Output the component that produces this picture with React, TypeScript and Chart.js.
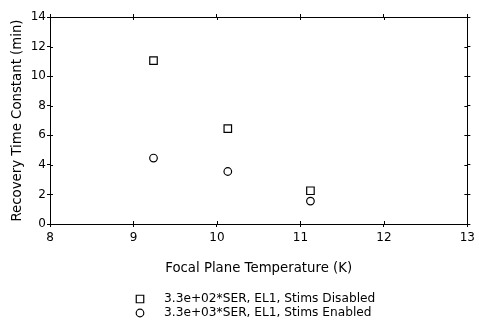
import React, { useEffect, useRef } from "react";
import { Chart, registerables } from "chart.js";

Chart.register(...registerables);

const temps = [9.24, 10.13, 11.12];
const disabledValues = [11.05, 6.45, 2.25];
const enabledValues = [4.46, 3.55, 1.55];
const seriesLabels = [
  "3.3e+02*SER, EL1, Stims Disabled",
  "3.3e+03*SER, EL1, Stims Enabled",
];
const xTitle = "Focal Plane Temperature (K)";
const yTitle = "Recovery Time Constant (min)";

const FONT = "DejaVu Sans";

const innerTicks = {
  id: "innerTicks",
  afterDatasetsDraw(chart: any) {
    const ctx = chart.ctx;
    const a = chart.chartArea;
    ctx.save();
    ctx.strokeStyle = "#000";
    ctx.lineWidth = 1;
    const len = 3;
    const xs = chart.scales.x;
    const ys = chart.scales.y;
    ctx.beginPath();
    xs.ticks.forEach((t: any) => {
      const px = Math.round(xs.getPixelForValue(t.value)) + 0.5;
      ctx.moveTo(px, a.bottom);
      ctx.lineTo(px, a.bottom - len);
      ctx.moveTo(px, a.top);
      ctx.lineTo(px, a.top + len);
    });
    ys.ticks.forEach((t: any) => {
      const py = Math.round(ys.getPixelForValue(t.value)) + 0.5;
      ctx.moveTo(a.left, py);
      ctx.lineTo(a.left + len, py);
      ctx.moveTo(a.right, py);
      ctx.lineTo(a.right - len, py);
    });
    ctx.stroke();
    ctx.restore();
  },
};

const customLegend = {
  id: "customLegend",
  afterDraw(chart: any) {
    const ctx = chart.ctx;
    ctx.save();
    ctx.font = `12.2px "${FONT}"`;
    ctx.fillStyle = "#000";
    ctx.strokeStyle = "#000";
    ctx.lineWidth = 1.2;
    ctx.textBaseline = "middle";
    ctx.textAlign = "left";
    const rows = [299, 313];
    chart.data.datasets.forEach((ds: any, i: number) => {
      const y = rows[i];
      const mx = 140;
      ctx.beginPath();
      if (ds.pointStyle === "rect") {
        ctx.rect(mx - 3.75, y - 3.75, 7.5, 7.5);
      } else {
        ctx.arc(mx, y, 3.8, 0, Math.PI * 2);
      }
      ctx.stroke();
      ctx.fillText(ds.label, 164, y);
    });
    ctx.restore();
  },
};

export default function App() {
  const ref = useRef<HTMLCanvasElement>(null);
  useEffect(() => {
    if (!ref.current) return;
    const tickFont = { family: FONT, size: 12 };
    const titleFont = { family: FONT, size: 13.3 };
    const gridCommon = {
      drawOnChartArea: false,
      drawTicks: true,
      tickLength: 3,
      color: "#000",
      lineWidth: 1,
    };
    const border = { color: "#000", width: 1 };
    const chart = new Chart(ref.current, {
      type: "scatter",
      data: {
        datasets: [
          {
            label: seriesLabels[0],
            data: temps.map((t, i) => ({ x: t, y: disabledValues[i] })),
            pointStyle: "rect",
            pointRadius: 5.3,
            pointBorderWidth: 1.2,
            borderColor: "#000",
            backgroundColor: "rgba(0,0,0,0)",
          },
          {
            label: seriesLabels[1],
            data: temps.map((t, i) => ({ x: t, y: enabledValues[i] })),
            pointStyle: "circle",
            pointRadius: 3.8,
            pointBorderWidth: 1.2,
            borderColor: "#000",
            backgroundColor: "rgba(0,0,0,0)",
          },
        ],
      },
      options: {
        animation: false,
        responsive: false,
        devicePixelRatio: 1,
        layout: { padding: { left: 0, right: 0, top: 0, bottom: 40 } },
        plugins: {
          legend: { display: false },
          tooltip: { enabled: false },
        },
        scales: {
          x: {
            type: "linear",
            position: "bottom",
            min: 8,
            max: 13,
            ticks: { stepSize: 1, color: "#000", font: tickFont, padding: 4 },
            grid: gridCommon,
            border,
            title: {
              display: true,
              text: xTitle,
              color: "#000",
              font: titleFont,
              padding: { top: 0, bottom: 5 },
            },
            afterFit: (s: any) => {
              s.height = 58;
            },
          },
          x2: {
            type: "linear",
            position: "top",
            min: 8,
            max: 13,
            ticks: { stepSize: 1, display: false },
            grid: gridCommon,
            border,
            afterFit: (s: any) => {
              s.height = 17;
            },
          },
          y: {
            type: "linear",
            position: "left",
            min: 0,
            max: 14,
            ticks: { stepSize: 2, color: "#000", font: tickFont, padding: 1 },
            grid: gridCommon,
            border,
            title: {
              display: true,
              text: yTitle,
              color: "#000",
              font: titleFont,
              padding: { top: 10, bottom: 0 },
            },
            afterFit: (s: any) => {
              s.width = 50;
            },
          },
          y2: {
            type: "linear",
            position: "right",
            min: 0,
            max: 14,
            ticks: { stepSize: 2, display: false },
            grid: gridCommon,
            border,
            afterFit: (s: any) => {
              s.width = 8;
            },
          },
        },
      },
      plugins: [innerTicks, customLegend],
    } as any);
    return () => chart.destroy();
  }, []);
  return (
    <div
      style={{
        position: "fixed",
        left: 0,
        top: 0,
        width: 479,
        height: 322,
        background: "#fff",
      }}
    >
      <canvas ref={ref} width={479} height={322} />
    </div>
  );
}
